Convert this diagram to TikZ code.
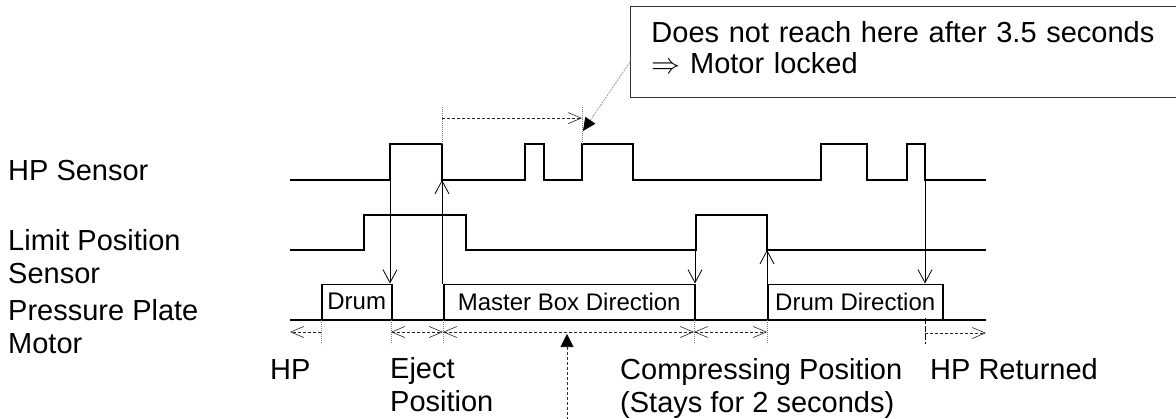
\documentclass[tikz,border=0pt]{standalone}
\usepackage{graphicx}
\usepackage{fontspec}
\setmainfont{Liberation Sans}
\usetikzlibrary{arrows.meta,calc}
\begin{document}
\begin{tikzpicture}[x=1bp,y=-1bp,
  wave/.style={line width=2bp,line join=miter},
  lbl/.style={font=\fontsize{29bp}{33bp}\selectfont,inner sep=0pt,anchor=base west,align=left},
  mbox/.style={draw,line width=1.5bp,inner sep=0pt,minimum height=35bp,font=\fontsize{24bp}{28bp}\selectfont,anchor=south west},
  evt/.style={line width=0.8bp,-{Straight Barb[length=13bp,width=14bp]}},
  dim/.style={line width=0.6bp,dash pattern=on 3bp off 2bp,black!85},
  tickln/.style={line width=0.6bp,gray,dash pattern=on 1bp off 1bp},
  barb/.tip={Straight Barb[length=13bp,width=11bp]},
  ]
\useasboundingbox (0,0) rectangle (1176,418);

% labels (anchor = baseline of last line)
\node[lbl] (lhp) at (8,180) {HP Sensor};
\node[lbl] (llp) at (8,283) {Limit Position\\Sensor};
\node[lbl] (lpm) at (8,353) {Pressure Plate\\Motor};

% HP sensor waveform
\draw[wave] (290,180) -- (390,180) -- (390,144) -- (442,144) -- (442,180) -- (525,180) -- (525,144) -- (544,144) -- (544,180) -- (582,180) -- (582,144) -- (633,144) -- (633,180) -- (821,180) -- (821,144) -- (867,144) -- (867,180) -- (907,180) -- (907,144) -- (925,144) -- (925,180) -- (986,180);
% Limit position sensor waveform
\draw[wave] (290,250) -- (364,250) -- (364,215) -- (466,215) -- (466,250) -- (696,250) -- (696,215) -- (767,215) -- (767,250) -- (986,250);
% Motor baseline
\draw[wave] (290,320) -- (986,320);

% motor boxes
\node[mbox,minimum width=70bp] (drum) at (321,320) {Drum};
\node[mbox,minimum width=251bp] (master) at (443,320) {Master Box Direction};
\node[mbox,minimum width=175bp] (ddir) at (767,320) {Drum Direction};

% event points on waveforms
\coordinate (hpA) at (390,144);
\coordinate (hpB) at (442,180);
\coordinate (hpT1) at (442,144);
\coordinate (hpT2) at (582,144);
\coordinate (lpC) at (695,250);
\coordinate (lpD) at (767,250);
\coordinate (hpE) at (925,180);

% event arrows
\draw[evt] (hpA) -- (hpA |- drum.north);
\draw[evt] (hpB |- master.north) -- (hpB);
\draw[evt] (lpC) -- (lpC |- master.north);
\draw[evt] (lpD |- ddir.north) -- (lpD);
\draw[evt] (hpE) -- (hpE |- ddir.north);

% timeout measure at top
\coordinate (t1) at (442,107);
\coordinate (t2) at (582,107);
\draw[tickln] (hpT1) -- (t1);
\draw[tickln] (hpT2) -- (t2);
\draw[dim,-{barb}] ($(t1)!0.3!(hpT1)$) -- ($(t2)!0.3!(hpT2)$);

% callout
\node[draw,line width=0.9bp,black!80,text=black,anchor=north west,inner xsep=21bp,inner ysep=0pt,
      minimum height=91bp,text width=530bp,align=left,
      font=\fontsize{29bp}{31bp}\selectfont] (note) at (630,6)
  {Does not reach here after 3.5 seconds\\\scalebox{1.17}{$\Rightarrow$} Motor locked\rule[-8bp]{0pt}{8bp}};
\coordinate (tipA) at (583,131);
\draw[line width=0.6bp,gray,dash pattern=on 2bp off 1bp,-{Triangle[length=13bp,width=12bp,color=black]}]
  ($(note.north west)!0.61!(note.south west)$) -- (tipA);

% position measures below
\coordinate (p0) at (290,332);
\coordinate (p1) at (321,332);
\coordinate (p2) at (391,332);
\coordinate (p3) at (443,332);
\coordinate (p4) at (694,332);
\coordinate (p5) at (767,332);
\coordinate (p6) at (925,333);
\coordinate (p7) at (986,333);
\foreach \p in {p1,p2,p3,p4,p5}{
  \draw[tickln] (\p) ++(0,-12) -- ++(0,24);
}
\draw[line width=0.8bp,dash pattern=on 6bp off 2bp] (p6) ++(0,-15) -- ++(0,26);
\draw[dim,-{barb}] (p1) -- (p0);
\draw[dim,{barb}-{barb}] (p2) -- (p3);
\draw[dim,{barb}-{barb}] (p3) -- (p4);
\draw[dim,{barb}-{barb}] (p4) -- (p5);
\draw[dim,-{barb}] (p6) -- (p7);

% pointer from below
\coordinate (ptrS) at (567,420);
\coordinate (ptrE) at (567,334);
\draw[line width=0.6bp,black!80,dash pattern=on 3bp off 2bp,-{Triangle[length=13bp,width=13bp,color=black]}] (ptrS) -- (ptrE);

% bottom labels
\node[lbl] (lhpb) at (270,379) {HP};
\node[lbl] (lej) at (390,411) {Eject\\Position};
\node[lbl] (lcp) at (620,412) {Compressing Position\\(Stays for 2 seconds)};
\node[lbl] (lhr) at (930,379) {HP Returned};
\end{tikzpicture}
\end{document}
